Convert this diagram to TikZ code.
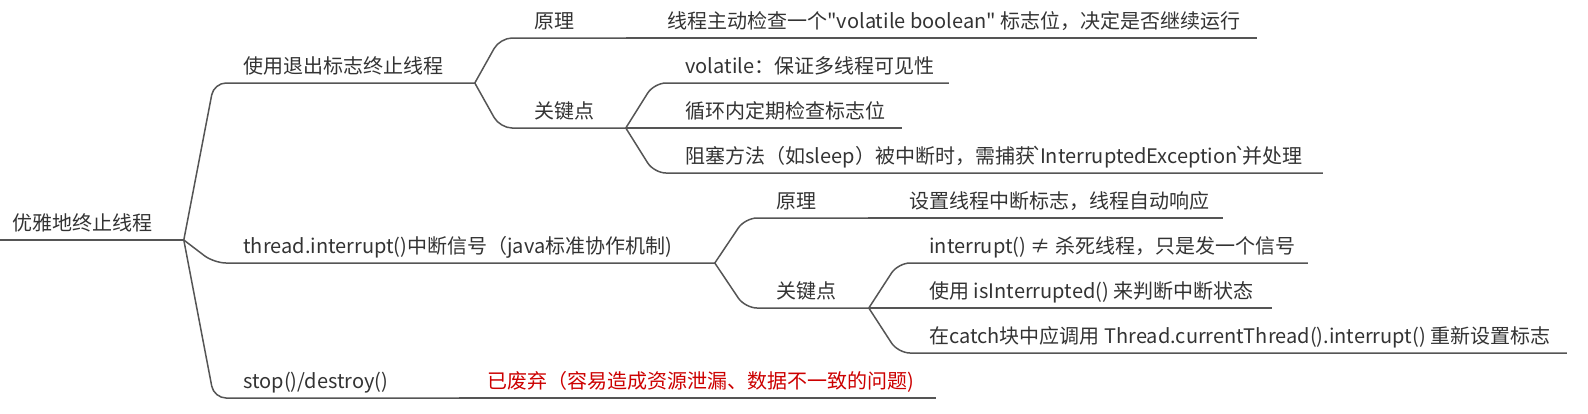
\documentclass[tikz,border=0pt]{standalone}
\usepackage{fontspec}
\setmainfont{Noto Sans CJK SC}[Ligatures=TeXOff]
\newdimen\mmpx \mmpx=0.5pt
\newcommand\mmt[3]{\makebox[#1\mmpx][l]{\hspace*{#2\mmpx}#3}}
\newcommand\mmbt{\makebox[5\mmpx][c]{\makebox[0pt][c]{`}}}
\definecolor{linegray}{HTML}{555555}
\definecolor{txt}{HTML}{333333}
\definecolor{warnred}{HTML}{CC0000}
\newcommand\mmconn[2]{\draw[link] (#1.south east) -- (#2.south west) -- (#2.south east);}
\begin{document}
\begin{tikzpicture}[x=0.5pt,y=-0.5pt,
  topic/.style={anchor=south west, inner sep=0pt, inner ysep=4.5pt, text depth=0pt,
                font=\fontsize{10pt}{12pt}\selectfont, text=txt},
  link/.style={draw=linegray, line width=0.75pt, rounded corners=6pt}]
\useasboundingbox (0,0) rectangle (1588,413);
\node[topic] (root) at (0,240) {\mmt{183}{12}{优雅地终止线程}};
\node[topic] (b1) at (214,83) {\mmt{260}{29}{使用退出标志终止线程}};
\node[topic] (b1p) at (500,38) {\mmt{125}{34}{原理}};
\node[topic] (b1pc) at (638,38) {\mmt{618}{29}{线程主动检查一个"volatile boolean" 标志位，决定是否继续运行}};
\node[topic] (b1k) at (500,128) {\mmt{125}{34}{关键点}};
\node[topic] (b1k1) at (654,83) {\mmt{294}{31}{volatile：保证多线程可见性}};
\node[topic] (b1k2) at (654,128) {\mmt{247}{31}{循环内定期检查标志位}};
\node[topic] (b1k3) at (654,173) {\mmt{668}{31}{阻塞方法（如sleep）被中断时，需捕获\mmbt InterruptedException\mmbt 并处理}};
\node[topic] (b2) at (214,263) {\mmt{500}{29}{thread.interrupt()中断信号（java标准协作机制)}};
\node[topic] (b2p) at (745,218) {\mmt{123}{31}{原理}};
\node[topic] (b2pc) at (880,218) {\mmt{342}{29}{设置线程中断标志，线程自动响应}};
\node[topic] (b2k) at (745,308) {\mmt{123}{31}{关键点}};
\node[topic] (b2k1) at (898,263) {\mmt{409}{31}{interrupt() ≠ 杀死线程，只是发一个信号}};
\node[topic] (b2k2) at (898,308) {\mmt{373}{31}{使用 isInterrupted() 来判断中断状态}};
\node[topic] (b2k3) at (898,353) {\mmt{668}{31}{在catch块中应调用 Thread.currentThread().interrupt() 重新设置标志}};
\node[topic] (b3) at (214,398) {\mmt{244}{29}{stop()/destroy()}};
\node[topic, text=warnred] (b3c) at (458,398) {\mmt{477}{29}{已废弃（容易造成资源泄漏、数据不一致的问题)}};
\draw[link] (root.south west) -- (root.south east);
\mmconn{root}{b1}
\mmconn{root}{b2}
\mmconn{root}{b3}
\mmconn{b1}{b1p}
\mmconn{b1p}{b1pc}
\mmconn{b1}{b1k}
\mmconn{b1k}{b1k1}
\mmconn{b1k}{b1k2}
\mmconn{b1k}{b1k3}
\mmconn{b2}{b2p}
\mmconn{b2p}{b2pc}
\mmconn{b2}{b2k}
\mmconn{b2k}{b2k1}
\mmconn{b2k}{b2k2}
\mmconn{b2k}{b2k3}
\mmconn{b3}{b3c}
\end{tikzpicture}
\end{document}
